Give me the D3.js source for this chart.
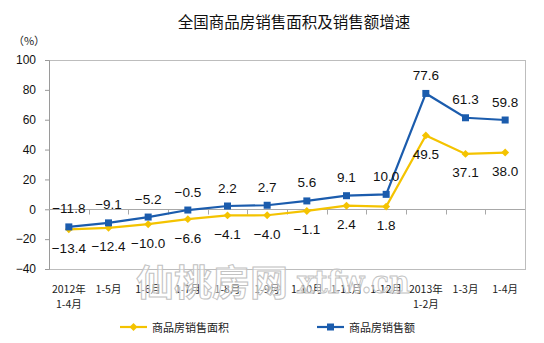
<!DOCTYPE html>
<html>
<head>
<meta charset="utf-8">
<script src="https://cdn.jsdelivr.net/npm/d3@7"></script>
<style>
  html, body { margin: 0; padding: 0; background: #fff; }
  svg { display: block; }
</style>
</head>
<body>
<svg id="chart" width="544" height="343"></svg>
<script>
// Period labels (two lines where the year is shown)
const periods = [
  ["2012年", "1-4月"], ["1-5月"], ["1-6月"], ["1-7月"], ["1-8月"], ["1-9月"],
  ["1-10月"], ["1-11月"], ["1-12月"], ["2013年", "1-2月"], ["1-3月"], ["1-4月"]
];
// Growth of floor area sold (%)
const areaGrowth = [-13.4, -12.4, -10.0, -6.6, -4.1, -4.0, -1.1, 2.4, 1.8, 49.5, 37.1, 38.0];
// Growth of sales value (%)
const salesGrowth = [-11.8, -9.1, -5.2, -0.5, 2.2, 2.7, 5.6, 9.1, 10.0, 77.6, 61.3, 59.8];
const yTicks = [-40, -20, 0, 20, 40, 60, 80, 100];
const titleText = "全国商品房销售面积及销售额增速";
const unitText = "（%）";
const seriesNames = ["商品房销售面积", "商品房销售额"];

const YELLOW = "#f4c300";
const BLUE = "#1b5cad";
const NUM_FONT = "'Liberation Sans', Arial, sans-serif";
const CJK_FONT = "'Noto Sans CJK SC', 'Noto Sans', sans-serif";

const svg = d3.select("#chart");
const plot = { left: 49, right: 525, top: 60, bottom: 269 };

const x = d3.scaleBand()
  .domain(d3.range(periods.length))
  .range([plot.left, plot.right]);
const y = d3.scaleLinear()
  .domain([-40, 100])
  .range([plot.bottom, plot.top]);
const cx = i => x(i) + x.bandwidth() / 2;

// Title and unit
svg.append("text")
  .attr("x", 294).attr("y", 21)
  .attr("text-anchor", "middle").attr("dominant-baseline", "central")
  .attr("font-family", CJK_FONT).attr("font-size", 15.5).attr("fill", "#111")
  .text(titleText);
svg.append("text")
  .attr("x", 29).attr("y", 40)
  .attr("text-anchor", "middle").attr("dominant-baseline", "central")
  .attr("font-family", CJK_FONT).attr("font-size", 11).attr("fill", "#222")
  .text(unitText);

// Plot area frame
svg.append("rect")
  .attr("x", plot.left).attr("y", plot.top)
  .attr("width", plot.right - plot.left).attr("height", plot.bottom - plot.top)
  .attr("fill", "none").attr("stroke", "#bdbdbd").attr("stroke-width", 1)
  .attr("shape-rendering", "crispEdges");

// Value axis
const yAxis = svg.append("g")
  .attr("transform", `translate(${plot.left},0)`)
  .call(d3.axisLeft(y).tickValues(yTicks).tickSize(4).tickPadding(9).tickFormat(d3.format("d")));
yAxis.select(".domain").attr("stroke", "#9a9a9a");
yAxis.selectAll(".tick line").attr("stroke", "#9a9a9a");
yAxis.selectAll(".tick text")
  .attr("font-family", NUM_FONT).attr("font-size", 12).attr("fill", "#111");

// Category axis along the zero line, ticks at band boundaries
const boundaries = d3.range(periods.length + 1).map(i => i === periods.length ? plot.right : x(i));
svg.append("line")
  .attr("x1", plot.left).attr("x2", plot.right)
  .attr("y1", Math.round(y(0)) + 0.5).attr("y2", Math.round(y(0)) + 0.5)
  .attr("stroke", "#a8a8a8");
svg.append("g").selectAll("line")
  .data(boundaries.slice(1, -1))
  .join("line")
  .attr("x1", d => Math.round(d) + 0.5).attr("x2", d => Math.round(d) + 0.5)
  .attr("y1", Math.round(y(0)) + 0.5).attr("y2", Math.round(y(0)) + 5.5)
  .attr("stroke", "#a8a8a8");

// Category labels below the plot
const catLabels = svg.append("g");
periods.forEach((lines, i) => {
  lines.forEach((t, k) => {
    catLabels.append("text")
      .attr("x", cx(i)).attr("y", 288 + k * 15)
      .attr("text-anchor", "middle").attr("dominant-baseline", "central")
      .attr("font-family", CJK_FONT).attr("font-size", 10.5).attr("fill", "#222")
      .text(t);
  });
});

// Lines
const line = d3.line().x((d, i) => cx(i)).y(d => y(d));
svg.append("path").datum(areaGrowth)
  .attr("d", line).attr("fill", "none").attr("stroke", YELLOW).attr("stroke-width", 2.2);
svg.append("path").datum(salesGrowth)
  .attr("d", line).attr("fill", "none").attr("stroke", BLUE).attr("stroke-width", 2.2);

// Markers
const diamond = d3.symbol().type(d3.symbolDiamond2).size(40);
svg.append("g").selectAll("path")
  .data(areaGrowth).join("path")
  .attr("transform", (d, i) => `translate(${cx(i)},${y(d)})`)
  .attr("d", diamond).attr("fill", YELLOW);
svg.append("g").selectAll("rect")
  .data(salesGrowth).join("rect")
  .attr("x", (d, i) => cx(i) - 3.5).attr("y", d => y(d) - 3.5)
  .attr("width", 7).attr("height", 7).attr("fill", BLUE);

// Value labels: sales above, area below
svg.append("g").selectAll("text")
  .data(salesGrowth).join("text")
  .attr("x", (d, i) => cx(i)).attr("y", d => y(d) - 18)
  .attr("text-anchor", "middle").attr("dominant-baseline", "central")
  .attr("font-family", NUM_FONT).attr("font-size", 13.5).attr("fill", "#111")
  .text(d => d3.format(".1f")(d));
svg.append("g").selectAll("text")
  .data(areaGrowth).join("text")
  .attr("x", (d, i) => cx(i)).attr("y", d => y(d) + 19)
  .attr("text-anchor", "middle").attr("dominant-baseline", "central")
  .attr("font-family", NUM_FONT).attr("font-size", 13.5).attr("fill", "#111")
  .text(d => d3.format(".1f")(d));

// Site watermark, hollow outline over the axis labels
const wm = svg.append("g").attr("fill", "#fff").attr("fill-opacity", 0.45)
  .attr("stroke", "#c2c2c2").attr("stroke-width", 1);
wm.append("text")
  .attr("x", 136).attr("y", 296)
  .attr("font-family", CJK_FONT).attr("font-size", 36).attr("font-weight", 700)
  .attr("textLength", 152).attr("lengthAdjust", "spacingAndGlyphs")
  .text("仙桃房网");
wm.append("text")
  .attr("x", 297).attr("y", 293)
  .attr("font-family", "'DejaVu Serif', serif").attr("font-size", 32).attr("font-weight", 700)
  .attr("textLength", 113).attr("lengthAdjust", "spacingAndGlyphs")
  .text("xtfw.cn");

// Legend
const legend = [
  { name: seriesNames[0], color: YELLOW, x0: 120, mark: "diamond" },
  { name: seriesNames[1], color: BLUE, x0: 317, mark: "square" }
];
const lg = svg.append("g");
legend.forEach(item => {
  const ly = 327;
  lg.append("line")
    .attr("x1", item.x0).attr("x2", item.x0 + 27)
    .attr("y1", ly).attr("y2", ly)
    .attr("stroke", item.color).attr("stroke-width", 2.2);
  if (item.mark === "diamond") {
    lg.append("path").attr("transform", `translate(${item.x0 + 13.5},${ly})`)
      .attr("d", diamond).attr("fill", item.color);
  } else {
    lg.append("rect").attr("x", item.x0 + 10).attr("y", ly - 3.5)
      .attr("width", 7).attr("height", 7).attr("fill", item.color);
  }
  lg.append("text")
    .attr("x", item.x0 + 32).attr("y", ly)
    .attr("dominant-baseline", "central")
    .attr("font-family", CJK_FONT).attr("font-size", 11).attr("fill", "#222")
    .text(item.name);
});
</script>
</body>
</html>
